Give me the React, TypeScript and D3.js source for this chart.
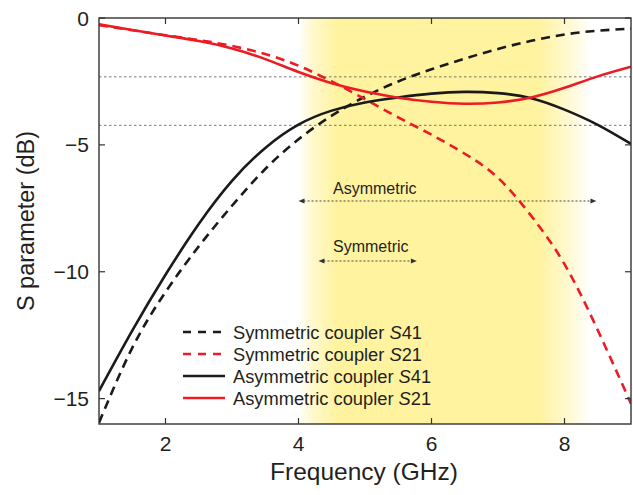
import React from "react";
import * as d3 from "d3";

const freqs = [1, 1.5, 2, 2.5, 3, 3.5, 4, 4.5, 5, 5.5, 6, 6.5, 7, 7.5, 8, 8.5, 9];
const symS41 = [-15.95, -13.0, -10.8, -9.0, -7.4, -5.95, -4.78, -3.85, -3.1, -2.5, -2.02, -1.6, -1.22, -0.9, -0.65, -0.5, -0.42];
const symS21 = [-0.28, -0.48, -0.68, -0.87, -1.1, -1.42, -1.88, -2.5, -3.2, -3.92, -4.6, -5.35, -6.3, -7.8, -9.7, -12.3, -15.2];
const asymS41 = [-14.7, -12.32, -10.12, -8.12, -6.42, -5.12, -4.2, -3.65, -3.33, -3.13, -2.98, -2.91, -2.96, -3.16, -3.61, -4.21, -4.96];
const asymS21 = [-0.25, -0.47, -0.69, -0.91, -1.2, -1.62, -2.13, -2.57, -2.9, -3.14, -3.3, -3.38, -3.33, -3.13, -2.75, -2.3, -1.92];

const xTicks = [2, 4, 6, 8];
const yTicks = [0, -5, -10, -15];
const refLevels = [-2.32, -4.23];
const bandRange = [4.0, 8.4];
const asymRange = [4.0, 8.48];
const symRange = [4.3, 5.78];

const series = [
  { name: "Symmetric coupler ", sub: "41", values: symS41, color: "#1a1a1a", dash: "9,6" },
  { name: "Symmetric coupler ", sub: "21", values: symS21, color: "#ec1c24", dash: "9,6" },
  { name: "Asymmetric coupler ", sub: "41", values: asymS41, color: "#1a1a1a", dash: null },
  { name: "Asymmetric coupler ", sub: "21", values: asymS21, color: "#ec1c24", dash: null },
];

const W = 633, H = 495;
const L = 99, R = 631, T = 18, B = 424;
const FONT = "'Liberation Sans', Arial, Helvetica, sans-serif";

export default function App() {
  const x = d3.scaleLinear().domain([1, 9]).range([L, R]);
  const y = d3.scaleLinear().domain([-16, 0]).range([B, T]);
  const line = d3
    .line<number>()
    .x((_, i) => x(freqs[i]))
    .y((d) => y(d))
    .curve(d3.curveNatural);

  const axisColor = "#333";
  const txt = "#231f20";
  const tickLen = 6;

  const arrow = (r: number[], yy: number, key: string) => (
    <g key={key}>
      <line x1={x(r[0]) + 5} x2={x(r[1]) - 5} y1={yy} y2={yy} stroke="#333" strokeWidth={0.9} strokeDasharray="2,2" />
      <path d={`M${x(r[0])},${yy} l6,-2.5 v5 z`} fill="#333" />
      <path d={`M${x(r[1])},${yy} l-6,-2.5 v5 z`} fill="#333" />
    </g>
  );

  const legendY0 = 332;
  const legendDy = 22;

  return (
    <svg width={W} height={H} style={{ position: "absolute", left: 0, top: 0, background: "#fff" }} fontFamily={FONT}>
      <defs>
        <clipPath id="plot">
          <rect x={L} y={T} width={R - L} height={B - T} />
        </clipPath>
        <linearGradient id="band" x1="0" x2="1" y1="0" y2="0">
          <stop offset="0" stopColor="#fff3a0" stopOpacity={0} />
          <stop offset="0.05" stopColor="#fff3a0" stopOpacity={0.55} />
          <stop offset="0.13" stopColor="#fff3a0" stopOpacity={1} />
          <stop offset="0.82" stopColor="#fff3a0" stopOpacity={1} />
          <stop offset="0.92" stopColor="#fff3a0" stopOpacity={0.5} />
          <stop offset="1" stopColor="#fff3a0" stopOpacity={0} />
        </linearGradient>
      </defs>
      <rect x={x(bandRange[0])} y={T} width={x(bandRange[1]) - x(bandRange[0])} height={B - T} fill="url(#band)" />

      {refLevels.map((v) => (
        <line key={v} x1={L} x2={R} y1={y(v)} y2={y(v)} stroke="#555" strokeWidth={0.8} strokeDasharray="2.5,2.5" />
      ))}

      {arrow(asymRange, 201, "a")}
      {arrow(symRange, 261, "s")}
      <text x={333} y={194} fontSize={16} fill={txt}>Asymmetric</text>
      <text x={333} y={252} fontSize={16} fill={txt}>Symmetric</text>

      <g clipPath="url(#plot)">
        {series.map((s, i) => (
          <path
            key={i}
            d={line(s.values) || ""}
            fill="none"
            stroke={s.color}
            strokeWidth={2.6}
            strokeDasharray={s.dash || undefined}
          />
        ))}
      </g>

      {series.map((s, i) => {
        const ly = legendY0 + i * legendDy;
        return (
          <g key={i}>
            <line x1={183} x2={225} y1={ly} y2={ly} stroke={s.color} strokeWidth={2.6} strokeDasharray={s.dash ? "8,7" : undefined} />
            <text x={233} y={ly + 7} fontSize={18.3} fill={txt}>
              {s.name}
              <tspan fontStyle="italic">S</tspan>
              {s.sub}
            </text>
          </g>
        );
      })}

      <rect x={L} y={T} width={R - L} height={B - T} fill="none" stroke={axisColor} strokeWidth={1.4} />
      {xTicks.map((t) => (
        <g key={t}>
          <line x1={x(t)} x2={x(t)} y1={B} y2={B - tickLen} stroke={axisColor} strokeWidth={1.2} />
          <line x1={x(t)} x2={x(t)} y1={T} y2={T + tickLen} stroke={axisColor} strokeWidth={1.2} />
          <text x={x(t)} y={451} fontSize={21} textAnchor="middle" fill={txt}>{t}</text>
        </g>
      ))}
      {yTicks.map((t) => (
        <g key={t}>
          <line x1={L} x2={L + tickLen} y1={y(t)} y2={y(t)} stroke={axisColor} strokeWidth={1.2} />
          <line x1={R} x2={R - tickLen} y1={y(t)} y2={y(t)} stroke={axisColor} strokeWidth={1.2} />
          <text x={89} y={y(t) + 7.5} fontSize={21} textAnchor="end" fill={txt}>
            {t < 0 ? "\u2212" + Math.abs(t) : t}
          </text>
        </g>
      ))}
      <text x={364} y={480} fontSize={24.5} textAnchor="middle" fill={txt}>Frequency (GHz)</text>
      <text transform={`translate(34,${(T + B) / 2}) rotate(-90)`} fontSize={23.5} textAnchor="middle" fill={txt}>
        S parameter (dB)
      </text>
    </svg>
  );
}
